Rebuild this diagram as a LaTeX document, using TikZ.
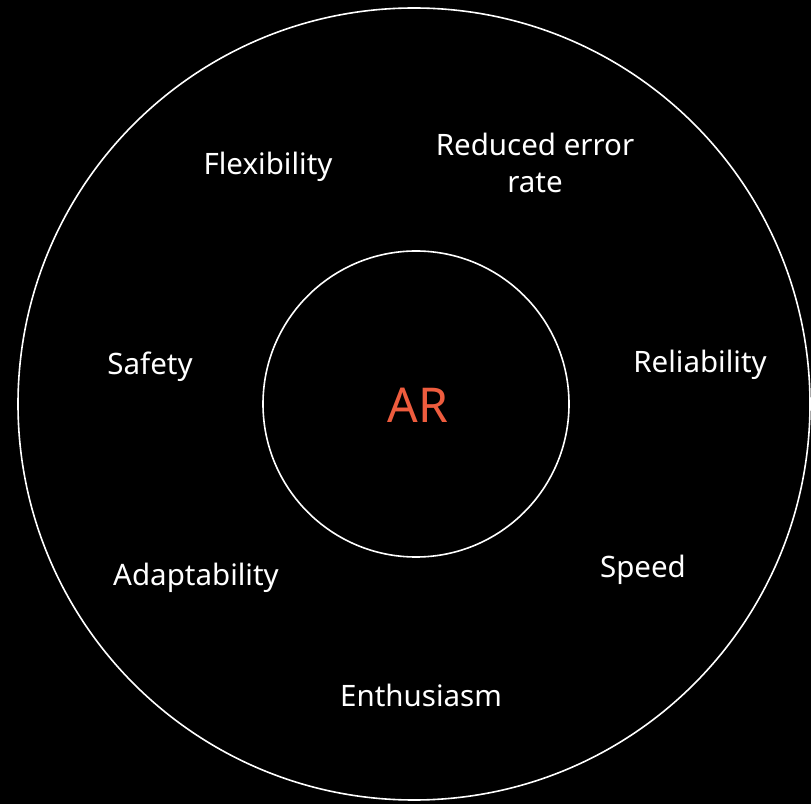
\documentclass[tikz,border=0pt]{standalone}
\usepackage{fontspec}
\setmainfont{Noto Sans}
\definecolor{arcol}{RGB}{238,92,62}
\begin{document}
\begin{tikzpicture}[x=1pt,y=1pt,
  lbl/.style={text=white,font=\fontsize{29.5}{37}\selectfont,align=center,inner sep=0pt},
  ring/.style={draw=white,line width=1.6pt}]
\fill[black] (0,0) rectangle (811,804);
\useasboundingbox (0,0) rectangle (811,804);
\node[ring,circle,minimum size=792pt,inner sep=0pt] (outer) at (414,400) {};
\node[ring,circle,minimum size=306pt,inner sep=0pt] (inner) at (416,400) {};
\node[text=arcol,font=\fontsize{48}{52}\selectfont,inner sep=0pt] (ar) at (418,399) {AR};
\node[lbl] (flex) at (268,637) {Flexibility};
\node[lbl] (red) at (535,641) {Reduced error\\rate};
\node[lbl] (safe) at (150,437) {Safety};
\node[lbl] (rel) at (700,439) {Reliability};
\node[lbl] (adapt) at (196,226) {Adaptability};
\node[lbl] (speed) at (643,234) {Speed};
\node[lbl] (enth) at (421,109) {Enthusiasm};
\end{tikzpicture}
\end{document}
